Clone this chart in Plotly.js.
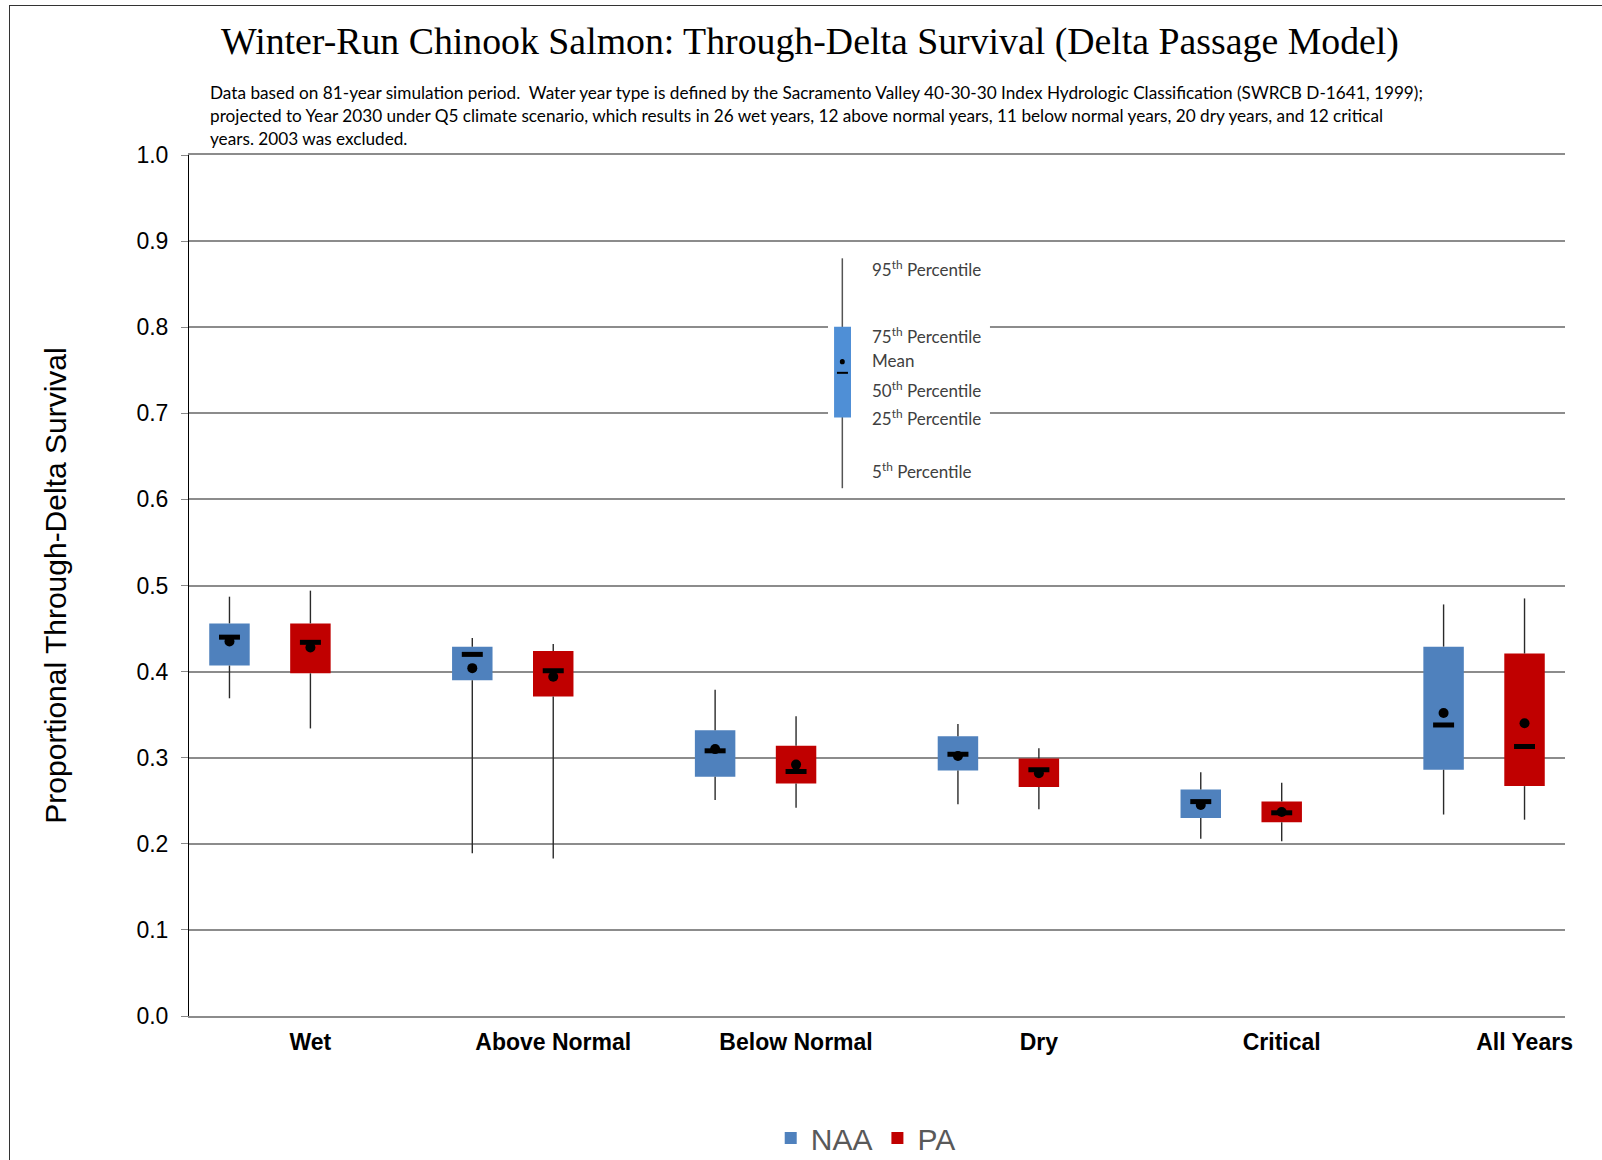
<!DOCTYPE html>
<html>
<head>
<meta charset="utf-8">
<script src="https://cdn.plot.ly/plotly-3.0.1.min.js"></script>
<style>
  body { margin: 0; background: #fff; }
  #chart { width: 1602px; height: 1160px; }
  #frame { position: absolute; left: 9px; top: 5px; width: 1600px; height: 1160px;
           border-left: 1.5px solid #333; border-top: 1.5px solid #333; pointer-events: none; }
</style>
</head>
<body>
<div id="chart"></div>
<div id="frame"></div>
<script>
var categories = ["Wet", "Above Normal", "Below Normal", "Dry", "Critical", "All Years"]

// NAA percentiles
var naaP5   = [0.369, 0.189, 0.251, 0.246, 0.206, 0.234]
var naaQ1   = [0.407, 0.390, 0.278, 0.285, 0.230, 0.286]
var naaMed  = [0.440, 0.420, 0.308, 0.304, 0.249, 0.338]
var naaMean = [0.435, 0.404, 0.310, 0.302, 0.245, 0.352]
var naaQ3   = [0.456, 0.429, 0.332, 0.325, 0.263, 0.429]
var naaP95  = [0.487, 0.439, 0.379, 0.339, 0.283, 0.478]

// PA percentiles
var paP5   = [0.334, 0.183, 0.242, 0.240, 0.203, 0.228]
var paQ1   = [0.398, 0.371, 0.270, 0.266, 0.225, 0.267]
var paMed  = [0.434, 0.401, 0.284, 0.286, 0.236, 0.313]
var paMean = [0.428, 0.394, 0.292, 0.282, 0.237, 0.340]
var paQ3   = [0.456, 0.424, 0.314, 0.299, 0.249, 0.421]
var paP95  = [0.494, 0.432, 0.348, 0.311, 0.271, 0.485]

// each category takes 3 slots: NAA, PA, gap
var naaX = categories.map(function (c, i) { return 3 * i })
var paX = categories.map(function (c, i) { return 3 * i + 1 })

function boxTraces(name, color, xs, p5, q1, med, mean, q3, p95) {
    var wx = [], wy = []
    for (var i = 0; i < xs.length; i++) {
        wx.push(xs[i], xs[i], null, xs[i], xs[i], null)
        wy.push(p5[i], q1[i], null, q3[i], p95[i], null)
    }
    var bar = {
        type: 'bar', name: name, x: xs,
        base: q1,
        y: q3.map(function (v, i) { return v - q1[i] }),
        width: 0.5,
        marker: { color: color, line: { width: 0 } },
        hoverinfo: 'skip'
    }
    var whisker = {
        type: 'scatter', mode: 'lines', x: wx, y: wy, showlegend: false,
        line: { color: '#2a2a2a', width: 1.4 }, hoverinfo: 'skip'
    }
    var median = {
        type: 'scatter', mode: 'markers', x: xs, y: med, showlegend: false,
        marker: { symbol: 'line-ew', size: 15, line: { color: '#000', width: 5 } }
    }
    var meanDot = {
        type: 'scatter', mode: 'markers', x: xs, y: mean, showlegend: false,
        marker: { symbol: 'circle', size: 10, color: '#000' }
    }
    return [bar, whisker, median, meanDot]
}

var data = boxTraces('NAA', '#4F81BD', naaX, naaP5, naaQ1, naaMed, naaMean, naaQ3, naaP95)
    .concat(boxTraces('PA', '#C00000', paX, paP5, paQ1, paMed, paMean, paQ3, paP95))

var calibri = 'Lato, "Open Sans", sans-serif'
var note = [
    'Data based on 81-year simulation period.  Water year type is defined by the Sacramento Valley 40-30-30 Index Hydrologic Classification (SWRCB D-1641, 1999);',
    'projected to Year 2030 under Q5 climate scenario, which results in 26 wet years, 12 above normal years, 11 below normal years, 20 dry years, and 12 critical',
    'years. 2003 was excluded.'
]
var annotations = note.map(function (t, i) {
    return {
        text: t, xref: 'paper', yref: 'paper', x: 0.0138, y: 1.0730 - i * 0.0267,
        xanchor: 'left', yanchor: 'middle', showarrow: false,
        font: { family: calibri, size: 17.2, color: '#000' }
    }
})

// key (explanation of the box symbol)
var keyLabels = ['95<sup>th</sup> Percentile', '75<sup>th</sup> Percentile', 'Mean',
                 '50<sup>th</sup> Percentile', '25<sup>th</sup> Percentile', '5<sup>th</sup> Percentile']
var keyY = [0.868, 0.790, 0.761, 0.728, 0.695, 0.633]
keyLabels.forEach(function (t, i) {
    annotations.push({
        text: t, xref: 'paper', yref: 'y', x: 0.4949, y: keyY[i],
        xanchor: 'left', yanchor: 'middle', showarrow: false,
        font: { family: calibri, size: 17, color: '#404040' }
    })
})

var shapes = [
    { type: 'rect', xref: 'paper', yref: 'y', x0: 0.4644, x1: 0.5821, y0: 0.612, y1: 0.889,
      fillcolor: '#fff', line: { width: 0 }, layer: 'above' },
    { type: 'line', xref: 'paper', yref: 'y', x0: 0.4748, x1: 0.4748, y0: 0.613, y1: 0.880,
      line: { color: '#555', width: 1.5 }, layer: 'above' },
    { type: 'rect', xref: 'paper', yref: 'y', x0: 0.4688, x1: 0.4811, y0: 0.695, y1: 0.8005,
      fillcolor: '#4F8FD6', line: { width: 0 }, layer: 'above' },
    { type: 'line', xref: 'paper', yref: 'y', x0: 0.4709, x1: 0.4789, y0: 0.747, y1: 0.747,
      line: { color: '#000', width: 2 }, layer: 'above' },
    { type: 'circle', xref: 'paper', yref: 'y', x0: 0.4730, x1: 0.4766, y0: 0.757, y1: 0.763,
      fillcolor: '#000', line: { width: 0 }, layer: 'above' }
]

var layout = {
    width: 1602,
    height: 1160,
    margin: { l: 189, r: 37, t: 155, b: 144 },
    paper_bgcolor: '#fff',
    plot_bgcolor: '#fff',
    barmode: 'overlay',
    title: {
        text: 'Winter-Run Chinook Salmon: Through-Delta Survival (Delta Passage Model)',
        font: { family: '"Liberation Serif", "Times New Roman", serif', size: 37.8, color: '#000' },
        x: 0.5056, xref: 'container', xanchor: 'center',
        y: 0.9647, yref: 'container', yanchor: 'middle'
    },
    xaxis: {
        range: [-0.5, 16.5],
        tickvals: paX,
        ticktext: categories,
        tickfont: { family: '"Liberation Sans", Arial, sans-serif', size: 23, color: '#000', weight: 'bold' },
        ticks: '',
        ticklabelstandoff: 5,
        showgrid: false,
        zeroline: false,
        showline: true,
        mirror: true,
        linecolor: '#8c8c8c',
        linewidth: 1.5
    },
    yaxis: {
        range: [0, 1.0],
        tickvals: [0, 0.1, 0.2, 0.3, 0.4, 0.5, 0.6, 0.7, 0.8, 0.9, 1.0],
        ticktext: ['0.0', '0.1', '0.2', '0.3', '0.4', '0.5', '0.6', '0.7', '0.8', '0.9', '1.0'],
        tickfont: { family: '"Liberation Sans", Arial, sans-serif', size: 23, color: '#000' },
        ticks: 'outside',
        ticklen: 7,
        tickcolor: '#888',
        ticklabelstandoff: 8,
        showgrid: true,
        gridcolor: '#8c8c8c',
        gridwidth: 1.5,
        zeroline: false,
        showline: true,
        linecolor: '#000',
        linewidth: 1,
        title: {
            text: 'Proportional Through-Delta Survival',
            font: { family: '"Liberation Sans", Arial, sans-serif', size: 30, color: '#000' },
            standoff: 60
        }
    },
    legend: {
        orientation: 'h',
        xref: 'container', x: 0.5404, xanchor: 'center',
        yref: 'container', y: 0.019, yanchor: 'middle',
        font: { family: '"Liberation Sans Narrow", "Arial Narrow", "Liberation Sans", sans-serif', size: 30, color: '#595959' }
    },
    annotations: annotations,
    shapes: shapes,
    showlegend: true
}

Plotly.newPlot('chart', data, layout, { displayModeBar: false })
</script>
</body>
</html>
